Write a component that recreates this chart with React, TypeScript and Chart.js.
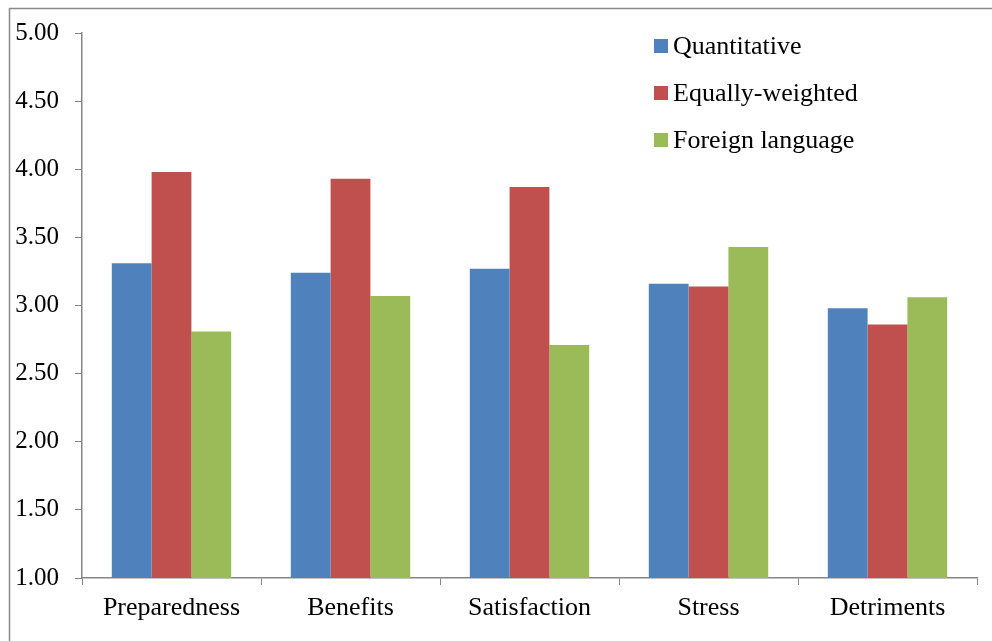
import React, { useEffect, useRef } from "react";
import { Chart, registerables } from "chart.js";

Chart.register(...registerables);

const categories = ["Preparedness", "Benefits", "Satisfaction", "Stress", "Detriments"];
const seriesNames = ["Quantitative", "Equally-weighted", "Foreign language"];
const quantitative = [3.31, 3.24, 3.27, 3.16, 2.98];
const equallyWeighted = [3.98, 3.93, 3.87, 3.14, 2.86];
const foreignLanguage = [2.81, 3.07, 2.71, 3.43, 3.06];
const colors = ["#4F81BD", "#C0504D", "#9BBB59"];
const yTicks = [1, 1.5, 2, 2.5, 3, 3.5, 4, 4.5, 5];

const FONT = "'Liberation Serif', 'Times New Roman', serif";

const legendPlugin = {
  id: "customLegend",
  afterDraw(chart: any) {
    const ctx = chart.ctx;
    ctx.save();
    ctx.font = `26px ${FONT}`;
    ctx.textBaseline = "middle";
    ctx.textAlign = "left";
    chart.data.datasets.forEach((ds: any, i: number) => {
      const cy = 46 + i * 47;
      ctx.fillStyle = ds.backgroundColor;
      ctx.fillRect(654, cy - 7, 14, 14);
      ctx.fillStyle = "#000";
      ctx.fillText(ds.label, 673, cy + 1);
    });
    ctx.restore();
  },
};

const borderPlugin = {
  id: "outerBorder",
  afterDraw(chart: any) {
    const ctx = chart.ctx;
    ctx.save();
    ctx.strokeStyle = "#8a8a8a";
    ctx.lineWidth = 1.5;
    ctx.strokeRect(9.5, 8.5, 1200, 1200);
    ctx.restore();
  },
};

export default function App() {
  const ref = useRef<HTMLCanvasElement | null>(null);
  useEffect(() => {
    if (!ref.current) return;
    const values = [quantitative, equallyWeighted, foreignLanguage];
    const chart = new Chart(ref.current, {
      type: "bar",
      data: {
        labels: categories,
        datasets: seriesNames.map((name, i) => ({
          label: name,
          data: values[i],
          backgroundColor: colors[i],
          borderWidth: 0,
          categoryPercentage: 0.667,
          barPercentage: 1,
        })),
      },
      options: {
        animation: false,
        responsive: false,
        maintainAspectRatio: false,
        layout: { padding: { top: 33, right: 15, left: 0, bottom: 0 } },
        plugins: {
          legend: { display: false },
          tooltip: { enabled: false },
        },
        scales: {
          x: {
            grid: {
              display: true,
              drawOnChartArea: false,
              drawTicks: true,
              tickLength: 7,
              color: "#868686",
              offset: true,
            },
            border: { display: true, color: "#868686", width: 1.5 },
            ticks: {
              color: "#000",
              font: { family: FONT, size: 26 },
              padding: 8,
              maxRotation: 0,
            },
            afterFit: (s: any) => {
              s.height = 63;
            },
          },
          y: {
            min: 1,
            max: 5,
            grid: {
              display: true,
              drawOnChartArea: false,
              drawTicks: true,
              tickLength: 7,
              color: "#868686",
            },
            border: { display: true, color: "#868686", width: 1.5 },
            afterBuildTicks: (s: any) => {
              s.ticks = yTicks.map((v) => ({ value: v }));
            },
            ticks: {
              color: "#000",
              font: { family: FONT, size: 25 },
              padding: 16,
              callback: (v: any) => Number(v).toFixed(2),
            },
            afterFit: (s: any) => {
              s.width = 82;
            },
          },
        },
      },
      plugins: [legendPlugin, borderPlugin],
    });
    return () => chart.destroy();
  }, []);
  return (
    <div style={{ position: "absolute", left: 0, top: 0, width: 992, height: 641, background: "#fff" }}>
      <canvas ref={ref} width={992} height={641} style={{ width: 992, height: 641, display: "block" }} />
    </div>
  );
}
